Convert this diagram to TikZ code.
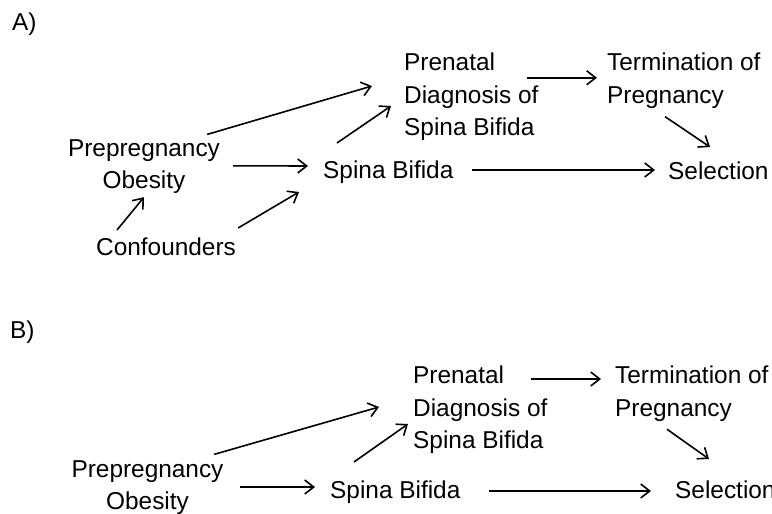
\documentclass[tikz,border=0pt]{standalone}
\usepackage{fontspec}
\setmainfont{Liberation Sans}
\usetikzlibrary{arrows.meta}
\begin{document}
\begin{tikzpicture}[x=1pt,y=-1pt,
  lbl/.style={inner sep=0pt,font=\fontsize{24.4}{32.5}\selectfont},
  one/.style={lbl,text height=17.5pt,text depth=5.1pt},
  multi/.style={lbl,align=left},
  multic/.style={lbl,align=center},
  arr/.style={line width=1.6pt,-{Straight Barb[length=9pt,width=14pt,line width=1.6pt]}}]
\useasboundingbox[fill=white] (0,0) rectangle (772,514);
% ---------- A ----------
\node[one,anchor=west] (labA) at (12,24.5) {A)};
\node[multi,anchor=west] (pn) at (404,97) {Prenatal\\Diagnosis of\\Spina Bifida};
\node[multi,anchor=west] (tm) at (607,80.8) {Termination of\\Pregnancy};
\node[multic] (pp) at (144,166.8) {Prepregnancy\\Obesity};
\node[one,anchor=west] (sb) at (323,172.5) {Spina Bifida};
\node[one,anchor=west] (sel) at (668,173.5) {Selection};
\node[one,anchor=west] (cf) at (96,249.5) {Confounders};
\draw[arr] ([shift={(-13,-5)}]pp.north east) -- ([shift={(-32,-11)}]pn.west);
\draw[arr] ([shift={(14,-18)}]sb.north west) -- ([shift={(-13,9)}]pn.west);
\draw[arr] ([shift={(13,-1)}]pp.east) -- ([shift={(-15,-6.5)}]sb.west);
\draw[arr] ([shift={(2,-10)}]cf.north east) -- ([shift={(-24,19.5)}]sb.west);
\draw[arr] ([shift={(21,-8)}]cf.north west) -- ([shift={(0,3)}]pp.south);
\draw[arr] ([shift={(-80,-3)}]tm.west) -- ([shift={(-10,-3)}]tm.west);
\draw[arr] ([shift={(58,8)}]tm.south west) -- ([shift={(42,-15)}]sel.north west);
\draw[arr] ([shift={(18,-2.5)}]sb.east) -- ([shift={(-13,-3.5)}]sel.west);
% ---------- B ----------
\node[one,anchor=west] (labB) at (10,332.5) {B)};
\node[multi,anchor=west] (pnB) at (413,410) {Prenatal\\Diagnosis of\\Spina Bifida};
\node[multi,anchor=west] (tmB) at (615,393.75) {Termination of\\Pregnancy};
\node[multic] (ppB) at (147.5,487.75) {Prepregnancy\\Obesity};
\node[one,anchor=west] (sbB) at (330,492.5) {Spina Bifida};
\node[one,anchor=west] (selB) at (675,492.5) {Selection};
\draw[arr] ([shift={(-9.5,-6)}]ppB.north east) -- ([shift={(-34,-3)}]pnB.west);
\draw[arr] ([shift={(24,-19)}]sbB.north west) -- ([shift={(-5,14)}]pnB.west);
\draw[arr] ([shift={(-84,-14.75)}]tmB.west) -- ([shift={(-14,-14.75)}]tmB.west);
\draw[arr] ([shift={(52,7.7)}]tmB.south west) -- ([shift={(34,-22)}]selB.north west);
\draw[arr] ([shift={(16.5,-0.75)}]ppB.east) -- ([shift={(-15,-5.5)}]sbB.west);
\draw[arr] ([shift={(28,-1.5)}]sbB.east) -- ([shift={(-24,-1.5)}]selB.west);
\end{tikzpicture}
\end{document}
